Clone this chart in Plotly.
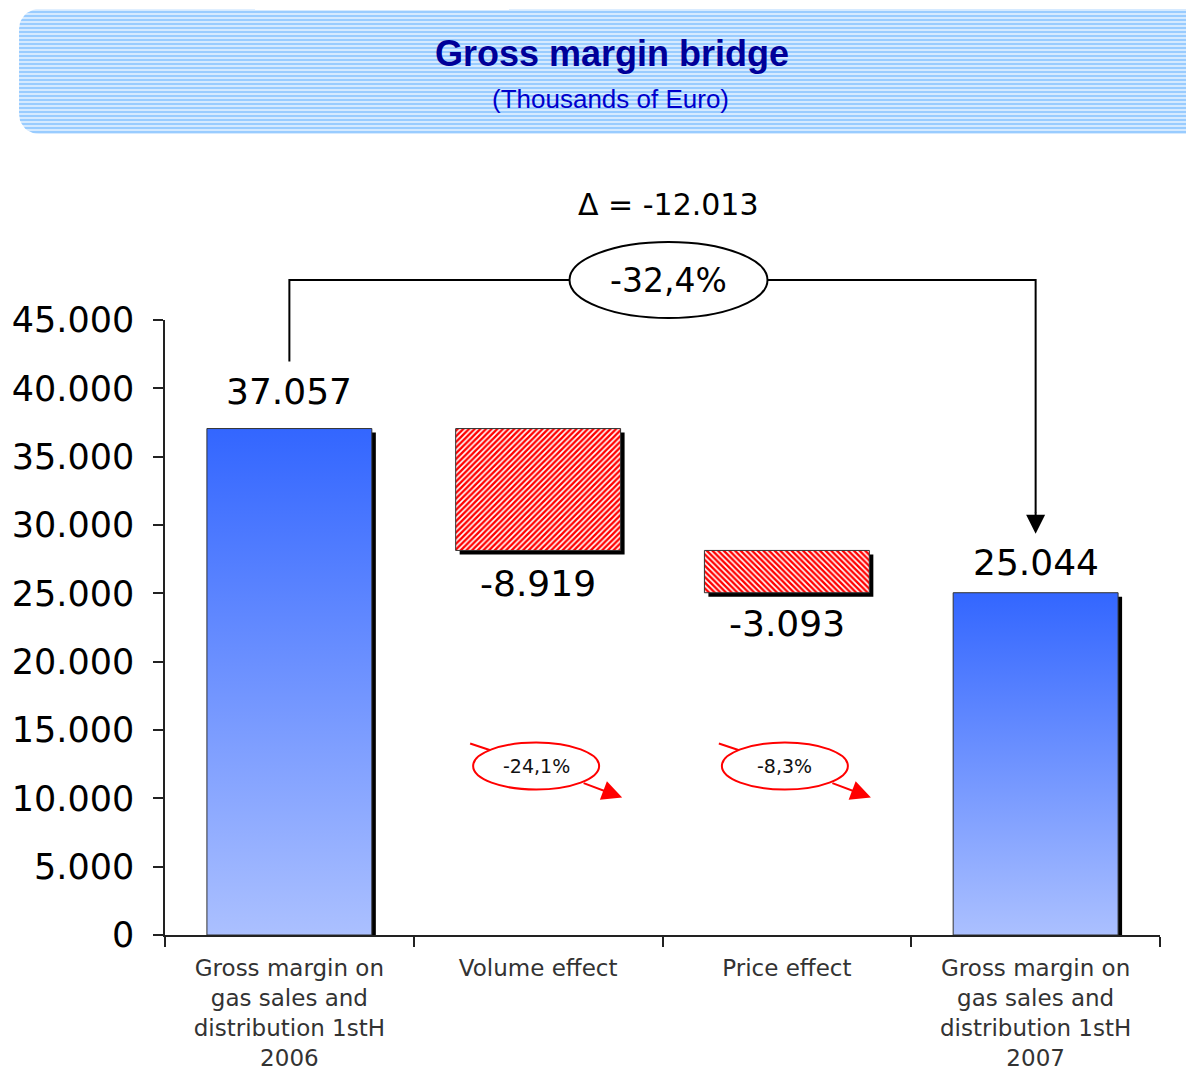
import math
import plotly.graph_objects as go

# ---------------- data ----------------
categories = [
    "Gross margin on<br>gas sales and<br>distribution 1stH<br>2006",
    "Volume effect",
    "Price effect",
    "Gross margin on<br>gas sales and<br>distribution 1stH<br>2007",
]
start_value = 37057
effect_values = [-8919, -3093]
end_value = 25044
y_tick_values = [0, 5000, 10000, 15000, 20000, 25000, 30000, 35000, 40000, 45000]
title_text = "Gross margin bridge"
subtitle_text = "(Thousands of Euro)"

# ---------------- layout constants ----------------
W, H = 1186, 1071
L, R, T, B = 165, 1160, 320, 935          # plot area in pixels
YMAX = 45000
BAR_W = 0.663
FONT = "DejaVu Sans"


def fmt_int(v):
    return f"{v:,}".replace(",", ".")


def fmt_pct(v):
    return f"{v:.1f}%".replace(".", ",")


def px(xc):
    return L + (xc + 0.5) * (R - L) / 4


def py(v):
    return B - v / YMAX * (B - T)


# waterfall geometry from the data
eff_tops = []
eff_bottoms = []
run = start_value
for e in effect_values:
    eff_tops.append(run)
    run += e
    eff_bottoms.append(run)

totals_x = [0, 3]
totals_v = [start_value, end_value]
eff_x = [1, 2]

fig = go.Figure()

# ---------------- header band (pixel axes x2/y2) ----------------
rad = 20
hx, hy = [], []
x_left, y_top, y_bot = 19, 9, 134
hx.append(1300); hy.append(y_top)
for k in range(0, 11):
    a = math.pi / 2 + k * (math.pi / 2) / 10
    hx.append(x_left + rad + rad * math.cos(a)); hy.append(y_top + rad - rad * math.sin(a))
for k in range(0, 11):
    a = math.pi + k * (math.pi / 2) / 10
    hx.append(x_left + rad + rad * math.cos(a)); hy.append(y_bot - rad - rad * math.sin(a))
hx.append(1300); hy.append(y_bot)
hx.append(1300); hy.append(y_top)
fig.add_trace(go.Scatter(
    x=hx, y=hy, xaxis="x2", yaxis="y2", mode="lines", line=dict(width=0, color="rgba(0,0,0,0)"),
    fill="toself", fillcolor="#99CCFF",
    fillpattern=dict(shape="-", fgcolor="white", bgcolor="#99CCFF", size=4, solidity=0.3),
    hoverinfo="skip", showlegend=False,
))

# ---------------- shadows ----------------
dx = 4 / ((R - L) / 4)
dy = 4 / (B - T) * YMAX
sh_x = totals_x + eff_x
sh_bot = [0, 0] + eff_bottoms
sh_top = totals_v + eff_tops
fig.add_trace(go.Bar(
    x=sh_x, base=[b - dy for b in sh_bot], y=[t - b for t, b in zip(sh_top, sh_bot)],
    width=BAR_W, offset=-BAR_W / 2 + dx, marker=dict(color="black", line=dict(width=0)),
    hoverinfo="skip", showlegend=False,
))

# ---------------- effect bars (hatched red) ----------------
fig.add_trace(go.Bar(
    x=eff_x, base=eff_tops, y=effect_values, width=BAR_W,
    marker=dict(
        color="white",
        line=dict(color="#333333", width=1),
        pattern=dict(shape=["/", "\\"], fgcolor="#FF0000", bgcolor="white", size=4, solidity=0.6),
    ),
    hoverinfo="skip", showlegend=False,
))

# ---------------- total bars (blue gradient) ----------------
for xc, v in zip(totals_x, totals_v):
    fig.add_trace(go.Scatter(
        x=[xc - BAR_W / 2, xc + BAR_W / 2, xc + BAR_W / 2, xc - BAR_W / 2, xc - BAR_W / 2],
        y=[0, 0, v, v, 0], mode="lines", line=dict(color="#333333", width=1),
        fill="toself",
        fillgradient=dict(type="vertical", colorscale=[[0, "#ABC0FF"], [1, "#3366FF"]], start=0, stop=v),
        hoverinfo="skip", showlegend=False,
    ))

annotations = []
shapes = []

# value labels
val_font = dict(family=FONT, size=36, color="black")
label_shift_tot = [37, 30]
for xc, v, s in zip(totals_x, totals_v, label_shift_tot):
    annotations.append(dict(x=xc, y=v, xref="x", yref="y", text=fmt_int(v), showarrow=False,
                            font=val_font, yanchor="middle", yshift=s))
label_shift_eff = [-33, -31]
for xc, b, e, s in zip(eff_x, eff_bottoms, effect_values, label_shift_eff):
    annotations.append(dict(x=xc, y=b, xref="x", yref="y", text=fmt_int(e), showarrow=False,
                            font=val_font, yanchor="middle", yshift=s))

# bridge connector
delta = end_value - start_value
bridge_y = 280
x_start, x_end = px(0), px(3)
shapes.append(dict(type="path", xref="x2", yref="y2",
                   path=f"M {x_start},{py(start_value) - 67} L {x_start},{bridge_y} L {x_end},{bridge_y} L {x_end},{py(end_value) - 80}",
                   line=dict(color="black", width=2)))
annotations.append(dict(x=x_end, y=py(end_value) - 59, ax=x_end, ay=py(end_value) - 82,
                        xref="x2", yref="y2", axref="x2", ayref="y2", text="", showarrow=True,
                        arrowhead=2, arrowsize=1.9, arrowwidth=2, arrowcolor="black"))
cx = (x_start + x_end) / 2 + 6
shapes.append(dict(type="circle", xref="x2", yref="y2", x0=cx - 99, x1=cx + 99,
                   y0=bridge_y - 38, y1=bridge_y + 38, line=dict(color="black", width=2),
                   fillcolor="white"))
annotations.append(dict(x=cx, y=bridge_y, xref="x2", yref="y2", text=fmt_pct(delta / start_value * 100),
                        showarrow=False, font=dict(family=FONT, size=33, color="black")))
annotations.append(dict(x=cx, y=204, xref="x2", yref="y2", text="Δ = " + fmt_int(delta),
                        showarrow=False, font=dict(family=FONT, size=30, color="black")))

# red percentage callouts
call_y = py(12400)
for xc, e in zip(eff_x, effect_values):
    c = px(xc) - 2
    shapes.append(dict(type="line", xref="x2", yref="y2", x0=c - 66, y0=call_y - 22, x1=c - 45,
                       y1=call_y - 15, line=dict(color="#FF0000", width=2)))
    annotations.append(dict(x=c + 86, y=call_y + 32, ax=c + 46, ay=call_y + 17,
                            xref="x2", yref="y2", axref="x2", ayref="y2", text="", showarrow=True,
                            arrowhead=2, arrowsize=2, arrowwidth=2, arrowcolor="#FF0000"))
    shapes.append(dict(type="circle", xref="x2", yref="y2", x0=c - 63, x1=c + 63,
                       y0=call_y - 23, y1=call_y + 24, line=dict(color="#FF0000", width=2),
                       fillcolor="white"))
    annotations.append(dict(x=c, y=call_y, xref="x2", yref="y2", text=fmt_pct(e / start_value * 100),
                            showarrow=False, font=dict(family=FONT, size=19, color="#111111")))

# title
annotations.append(dict(x=612, y=53, xref="x2", yref="y2", text=f"<b>{title_text}</b>", showarrow=False,
                        font=dict(family="Liberation Sans", size=36, color="#000099")))
annotations.append(dict(x=610, y=99, xref="x2", yref="y2", text=subtitle_text, showarrow=False,
                        font=dict(family="Liberation Sans", size=26, color="#0000CC")))

fig.update_layout(
    template="none",
    width=W, height=H,
    margin=dict(l=0, r=0, t=0, b=0, pad=0, autoexpand=False),
    paper_bgcolor="white", plot_bgcolor="rgba(0,0,0,0)",
    separators=",.",
    barmode="overlay",
    showlegend=False,
    xaxis=dict(
        domain=[L / W, R / W], range=[-0.5, 3.5], anchor="y", automargin=False,
        tickmode="array", tickvals=[0, 1, 2, 3], ticktext=categories, ticks="",
        tickfont=dict(family=FONT, size=23, color="#333333"),
        showline=True, linecolor="#222222", linewidth=1.5, showgrid=False, zeroline=False,
        minor=dict(tickmode="array", tickvals=[-0.5, 0.5, 1.5, 2.5, 3.5], ticks="outside",
                   ticklen=10, tickcolor="#222222", tickwidth=1.5, showgrid=False),
        ticklabelstandoff=12,
        fixedrange=True,
    ),
    yaxis=dict(
        domain=[(H - B) / H, (H - T) / H], range=[0, YMAX], anchor="x", automargin=False,
        tickmode="array", tickvals=y_tick_values, ticktext=[fmt_int(v) for v in y_tick_values],
        ticks="outside", ticklen=10, tickcolor="#222222", tickwidth=1.5,
        tickfont=dict(family=FONT, size=35, color="black"),
        showline=True, linecolor="#222222", linewidth=1.5, showgrid=False, zeroline=False,
        ticklabelstandoff=12,
        fixedrange=True,
    ),
    xaxis2=dict(domain=[0, 1], range=[0, W], anchor="y2", visible=False, fixedrange=True,
                automargin=False),
    yaxis2=dict(domain=[0, 1], range=[H, 0], anchor="x2", visible=False, fixedrange=True,
                automargin=False),
    annotations=annotations,
    shapes=shapes,
)

fig.write_html("out.html", config={"displayModeBar": False},
               post_script="document.body.style.margin='0px';")
